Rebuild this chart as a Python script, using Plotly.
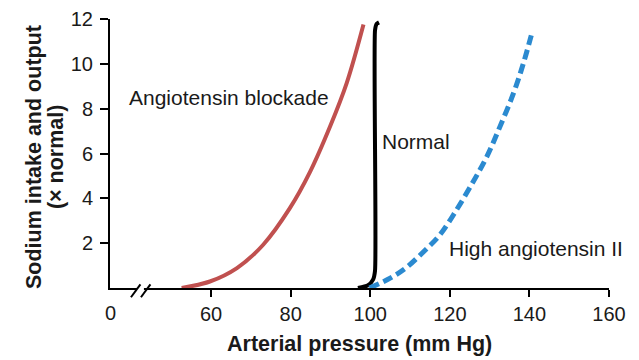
import plotly.graph_objects as go

# curvas de presion renal (presion arterial mm Hg vs sodio x normal)
blockade_x = [52.6, 59.7, 66.5, 73.1, 79.8, 84.9, 89.9, 94.1, 98.3]
blockade_y = [0.0, 0.29, 0.89, 1.93, 3.56, 5.19, 7.2, 9.15, 11.75]

normal_x = [96.9, 99.45, 100.7, 101.2, 101.2, 101.6, 102.2]
normal_y = [0.0, 0.12, 0.37, 0.77, 11.5, 11.78, 11.85]

high_x = [99.8, 105.0, 109.2, 113.4, 117.5, 121.7, 125.9, 129.3, 132.6, 136.0, 138.5, 140.6]
high_y = [0.0, 0.44, 0.93, 1.62, 2.37, 3.49, 4.75, 5.86, 7.2, 8.69, 10.03, 11.36]

x_break = 34.6          # el eje empieza aqui, rotulado "0"
x_ticks = [60, 80, 100, 120, 140, 160]
y_ticks = [2, 4, 6, 8, 10, 12]

FONT = "Liberation Sans, Arial, Helvetica, sans-serif"
INK = "#1a1a1a"

fig = go.Figure()
fig.add_trace(go.Scatter(x=blockade_x, y=blockade_y, mode="lines",
                         line=dict(color="#c0504f", width=4, shape="spline")))
fig.add_trace(go.Scatter(x=normal_x, y=normal_y, mode="lines",
                         line=dict(color="black", width=4, shape="spline", smoothing=0.6)))
fig.add_trace(go.Scatter(x=high_x, y=high_y, mode="lines",
                         line=dict(color="#2b8ad0", width=5, shape="spline", dash="10px,5px")))

# etiquetas de las curvas
fig.add_annotation(x=38.9, y=8.48, text="Angiotensin blockade", showarrow=False,
                   xanchor="left", yanchor="middle", font=dict(size=21, color=INK))
fig.add_annotation(x=102.5, y=6.53, text="Normal", showarrow=False,
                   xanchor="left", yanchor="middle", font=dict(size=21, color=INK))
fig.add_annotation(x=119.2, y=1.78, text="High angiotensin II", showarrow=False,
                   xanchor="left", yanchor="middle", font=dict(size=21, color=INK))

# "0" en el corte del eje x
fig.add_annotation(x=x_break, xref="x", yref="paper", y=0, yanchor="middle", yshift=-25,
                   text="0", showarrow=False, font=dict(size=20, color=INK))

# titulos de los ejes
fig.add_annotation(xref="paper", yref="paper", x=0.5, y=0, yanchor="middle", yshift=-56,
                   text="<b>Arterial pressure (mm Hg)</b>", showarrow=False,
                   font=dict(size=21.5, color=INK))
fig.add_annotation(xref="paper", yref="paper", x=-0.1523, y=0.487,
                   text="<b>Sodium intake and output</b>", textangle=-90, showarrow=False,
                   xanchor="center", yanchor="middle", font=dict(size=21.5, color=INK))
fig.add_annotation(xref="paper", yref="paper", x=-0.108, y=0.487,
                   text="<b>(× normal)</b>", textangle=-90, showarrow=False,
                   xanchor="center", yanchor="middle", font=dict(size=21.5, color=INK))

# marca de corte del eje x
fig.add_shape(type="line", xref="paper", yref="paper", x0=0.054, y0=0.0, x1=0.068, y1=0.0,
              line=dict(color="white", width=4), layer="above")
for x0 in [0.042, 0.062]:
    fig.add_shape(type="line", xref="paper", yref="paper", x0=x0, y0=-0.0345,
                  x1=x0 + 0.019, y1=0.0137, line=dict(color="black", width=2), layer="above")

# la pagina tiene 8px de margen en el body: se compensa en los margenes
fig.update_layout(
    width=639, height=360,
    margin=dict(l=102, r=38, t=11, b=80),
    plot_bgcolor="white", paper_bgcolor="white",
    showlegend=False,
    font=dict(family=FONT, color=INK, size=20),
    xaxis=dict(range=[x_break, 160], tickvals=x_ticks, ticks="outside", ticklen=7,
               tickwidth=2, tickcolor="black", showline=True, linecolor="black",
               linewidth=2, showgrid=False, zeroline=False, automargin=False),
    yaxis=dict(range=[0, 12], tickvals=y_ticks, ticks="outside", ticklen=8,
               tickwidth=2, tickcolor="black", showline=True, linecolor="black",
               linewidth=2, showgrid=False, zeroline=False, ticklabelstandoff=3,
               automargin=False),
)

fig.write_html("out.html")
